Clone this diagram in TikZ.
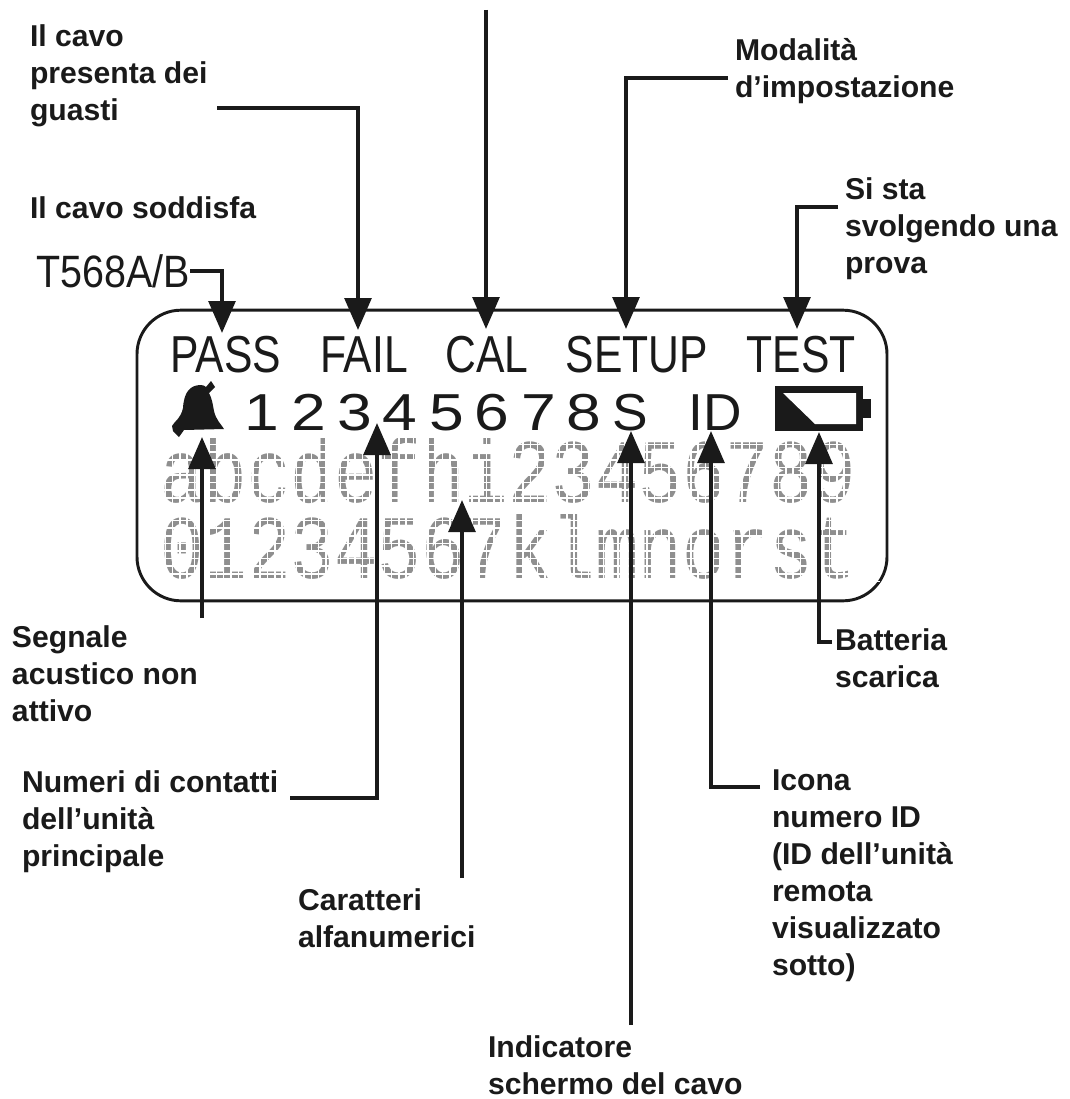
\documentclass[tikz,border=0pt]{standalone}
\usepackage{fontspec}
\setmainfont{Liberation Sans}
\newfontfamily\lcdmono{Liberation Mono}
\usetikzlibrary{arrows.meta}
\definecolor{lcdgray}{HTML}{8F8F8F}
\definecolor{ink}{HTML}{1A1A1A}
\tikzset{
  x=0.75pt,y=-0.75pt,
  lab/.style={anchor=north west,inner sep=0pt,outer sep=0pt,align=left,text=ink,font=\bfseries\fontsize{22.6}{27.75}\selectfont},
  lcdw/.style={anchor=base,inner sep=0pt,outer sep=0pt,text=ink,font=\fontsize{39}{39}\selectfont,xscale=0.82},
  lcdn/.style={anchor=base,inner sep=0pt,outer sep=0pt,text=ink,font=\fontsize{39}{39}\selectfont,xscale=1.2},
  dotrow/.style={inner sep=0pt,outer sep=0pt,anchor=base west,text=lcdgray,font=\lcdmono\fontsize{68}{68}\selectfont,xscale=0.8},
  conn/.style={draw=ink,line width=3pt,-{Triangle[length=24pt,width=20pt]}},
  gridl/.style={white,line width=1.1pt},
}
\begin{document}
\begin{tikzpicture}
\useasboundingbox (0,0) rectangle (1070,1099);
\fill[white] (0,0) rectangle (1070,1099);
% display
\node[draw=ink,line width=2.2pt,rounded corners=33pt,minimum width=562.5pt,minimum height=218pt,inner sep=0pt] (lcd) at (512,455.5) {};
% dot-matrix rows
\node[dotrow] (row1) at (160,502) {abcdefhi23456789};
\node[dotrow] (row2) at (160,578) {01234567klmnorst};
\foreach \i in {0,...,98}{\draw[gridl] ({158+\i*7.3},436) -- ({158+\i*7.3},510);\draw[gridl] ({158+\i*7.3},512) -- ({158+\i*7.3},586);}
\foreach \i in {0,...,9}{\draw[gridl] (155,{437+\i*7.6}) -- (880,{437+\i*7.6});\draw[gridl] (155,{513+\i*7.6}) -- (880,{513+\i*7.6});}
% top row
\node[lcdw] (pass) at (226,372) {PASS};
\node[lcdw] (fail) at (364,372) {FAIL};
\node[lcdw] (cal) at (487,372) {CAL};
\node[lcdw] (setup) at (637,372) {SETUP};
\node[lcdw] (test) at (801,372) {TEST};
% second row
\node[lcdn] (n1) at (262,430) {1};
\node[lcdn] (n2) at (309,430) {2};
\node[lcdn] (n3) at (355,430) {3};
\node[lcdn] (n4) at (400,430) {4};
\node[lcdn] (n5) at (447,430) {5};
\node[lcdn] (n6) at (492,430) {6};
\node[lcdn] (n7) at (539,430) {7};
\node[lcdn] (n8) at (584,430) {8};
\node[lcdw,xscale=1.25] (s) at (630,430) {S};
\node[lcdw,xscale=1.25] (id) at (715,430) {ID};
% bell
\fill[ink] (172,426) .. controls (174,422) and (181,418) .. (183,408) .. controls (184,392) and (190,385) .. (201,385) .. controls (203,385) and (205,386) .. (206,387) -- (211,381) -- (215,387) -- (209,393) .. controls (212,398) and (213,406) .. (214,411) .. controls (216,420) and (221,424) .. (224,429) -- (184,430) -- (179,437) -- (173,431) -- cycle;
% battery
\fill[ink] (775,386) rectangle (863,431);
\fill[ink] (863,399) rectangle (871,418);
\fill[white] (783,393) -- (856,393) -- (856,424) -- (815,424) -- cycle;
% labels
\node[lab] (a) at (30,21) {\strut Il cavo\\presenta dei\\guasti};
\node[lab] (b) at (30,193) {\strut Il cavo soddisfa};
\node[anchor=east,inner sep=0pt,text=ink,font=\fontsize{34}{34}\selectfont,xscale=0.87] (t568) at (190,271) {T568A/B};
\node[lab] (c) at (735,35) {\strut Modalità\\d'impostazione};
\node[lab] (d) at (845,174) {\strut Si sta\\svolgendo una\\prova};
\node[lab] (e) at (12,622) {\strut Segnale\\acustico non\\attivo};
\node[lab] (f) at (835,625) {\strut Batteria\\scarica};
\node[lab] (g) at (22,767) {\strut Numeri di contatti\\dell'unità\\principale};
\node[lab] (h) at (298,885) {\strut Caratteri\\alfanumerici};
\node[lab] (i) at (772,765) {\strut Icona\\numero ID\\(ID dell'unità\\remota\\visualizzato\\sotto)};
\node[lab] (j) at (488,1032) {\strut Indicatore\\schermo del cavo};
% connector ends
\coordinate (sFail) at (217,108);
\coordinate (sCal) at (486,10);
\coordinate (sSetup) at (728,78);
\coordinate (sTest) at (838,207);
\coordinate (sBell) at (202,618);
\coordinate (sNum) at (290,798);
\coordinate (sChar) at (462,878);
\coordinate (sScr) at (631,1025);
\coordinate (sId) at (760,787);
\coordinate (sBat) at (832,642);
\coordinate (tPass) at (222,333);
\coordinate (tFail) at (358,330);
\coordinate (tCal) at (486,329);
\coordinate (tSetup) at (626,329);
\coordinate (tTest) at (797,329);
\coordinate (tBell) at (202,437);
\coordinate (tNum) at (377,423);
\coordinate (tChar) at (462,500);
\coordinate (tScr) at (631,431);
\coordinate (tId) at (711,431);
\coordinate (tBat) at (819,432);
\draw[conn] (t568.east) -| (tPass);
\draw[conn] (sFail) -| (tFail);
\draw[conn] (sCal) -- (tCal);
\draw[conn] (sSetup) -| (tSetup);
\draw[conn] (sTest) -| (tTest);
\draw[conn] (sBell) -- (tBell);
\draw[conn] (sNum) -| (tNum);
\draw[conn] (sChar) -- (tChar);
\draw[conn] (sScr) -- (tScr);
\draw[conn] (sId) -| (tId);
\draw[conn] (sBat) -| (tBat);
\end{tikzpicture}
\end{document}
